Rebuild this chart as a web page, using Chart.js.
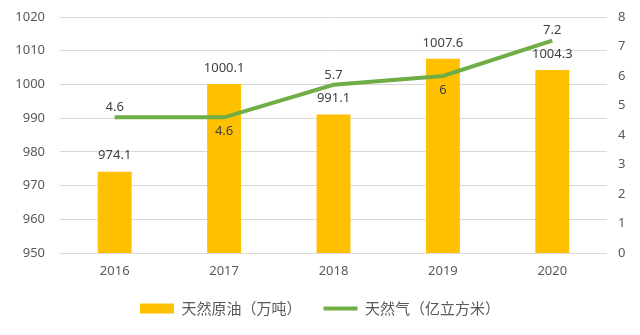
<!DOCTYPE html>
<html>
<head>
<meta charset="utf-8">
<script src="https://cdn.jsdelivr.net/npm/chart.js@4.4.1/dist/chart.umd.min.js"></script>
<style>
  html, body { margin: 0; padding: 0; background: #fff; }
  #wrap { width: 640px; height: 335px; }
</style>
</head>
<body>
<div id="wrap"><canvas id="energy_chart" width="640" height="335"></canvas></div>
<script>
// data
var years = ['2016', '2017', '2018', '2019', '2020'];
var oilOutput = [974.1, 1000.1, 991.1, 1007.6, 1004.3];   // 天然原油（万吨）
var gasOutput = [4.6, 4.6, 5.7, 6, 7.2];                  // 天然气（亿立方米）
var oilTicks = [950, 960, 970, 980, 990, 1000, 1010, 1020];
var gasTicks = [0, 1, 2, 3, 4, 5, 6, 7, 8];
var gasLabelSide = ['above', 'below', 'above', 'below', 'above'];

Chart.defaults.font.family = "'Noto Sans', 'Noto Sans CJK SC', sans-serif";
Chart.defaults.color = '#595959';

// draws the numbers next to bars and line points
var valueLabels = {
    id: 'valueLabels',
    afterDatasetsDraw: function(chart){
        var ctx = chart.ctx;
        ctx.save();
        ctx.font = "13px 'Noto Sans', sans-serif";
        ctx.fillStyle = '#404040';
        ctx.textAlign = 'center';
        ctx.textBaseline = 'middle';
        chart.getDatasetMeta(0).data.forEach(function(bar, i){
            ctx.fillText(oilOutput[i].toFixed(1), bar.x, bar.y - 16);
        });
        chart.getDatasetMeta(1).data.forEach(function(pt, i){
            var dy = gasLabelSide[i] == 'below' ? 14 : -10;
            ctx.fillText(String(gasOutput[i]), pt.x, pt.y + dy);
        });
        ctx.restore();
    }
};

var ctx = document.getElementById('energy_chart').getContext('2d');
var myChart = new Chart(ctx, {
    type: 'bar',
    data: {
        labels: years,
        datasets: [{
            type: 'bar',
            label: '天然原油（万吨）',
            data: oilOutput,
            yAxisID: 'y',
            backgroundColor: '#FFC000',
            borderWidth: 0,
            barPercentage: 0.31,
            categoryPercentage: 1,
            pointStyle: 'rect',
            order: 1
        }, {
            type: 'line',
            label: '天然气（亿立方米）',
            data: gasOutput,
            yAxisID: 'y1',
            borderColor: '#70AD47',
            backgroundColor: '#70AD47',
            borderWidth: 4,
            pointRadius: 0,
            tension: 0,
            pointStyle: 'line',
            order: 0
        }]
    },
    options: {
        responsive: false,
        animation: false,
        layout: { padding: { top: 17, left: 0, right: 0, bottom: 9 } },
        scales: {
            x: {
                grid: { display: false },
                border: { display: false },
                ticks: { padding: 2, font: { size: 13 }, color: '#595959' },
                afterFit: function(scale){ scale.height = 26; }
            },
            y: {
                position: 'left',
                min: 950,
                max: 1020,
                afterBuildTicks: function(scale){
                    scale.ticks = oilTicks.map(function(v){ return {value: v}; });
                },
                grid: { color: '#D9D9D9', lineWidth: 1, tickLength: 15, tickColor: 'rgba(0,0,0,0)' },
                border: { display: false },
                ticks: {
                    padding: 0,
                    font: { size: 13 },
                    color: '#595959',
                    callback: function(value){ return String(value); }
                },
                afterFit: function(scale){ scale.width = 60; }
            },
            y1: {
                position: 'right',
                min: 0,
                max: 8,
                afterBuildTicks: function(scale){
                    scale.ticks = gasTicks.map(function(v){ return {value: v}; });
                },
                grid: { drawOnChartArea: false, tickLength: 11, tickColor: 'rgba(0,0,0,0)' },
                border: { display: false },
                ticks: {
                    padding: 0,
                    font: { size: 13 },
                    color: '#595959',
                    callback: function(value){ return String(value); }
                },
                afterFit: function(scale){ scale.width = 33; }
            }
        },
        plugins: {
            legend: {
                position: 'bottom',
                labels: {
                    usePointStyle: true,
                    boxWidth: 34,
                    boxHeight: 10,
                    pointStyleWidth: 34,
                    padding: 22,
                    color: '#595959',
                    font: { size: 15, family: "'Noto Sans CJK SC', sans-serif" },
                    sort: function(a, b){ return a.datasetIndex - b.datasetIndex; }
                }
            },
            tooltip: { enabled: false }
        }
    },
    plugins: [valueLabels]
});
</script>
</body>
</html>
